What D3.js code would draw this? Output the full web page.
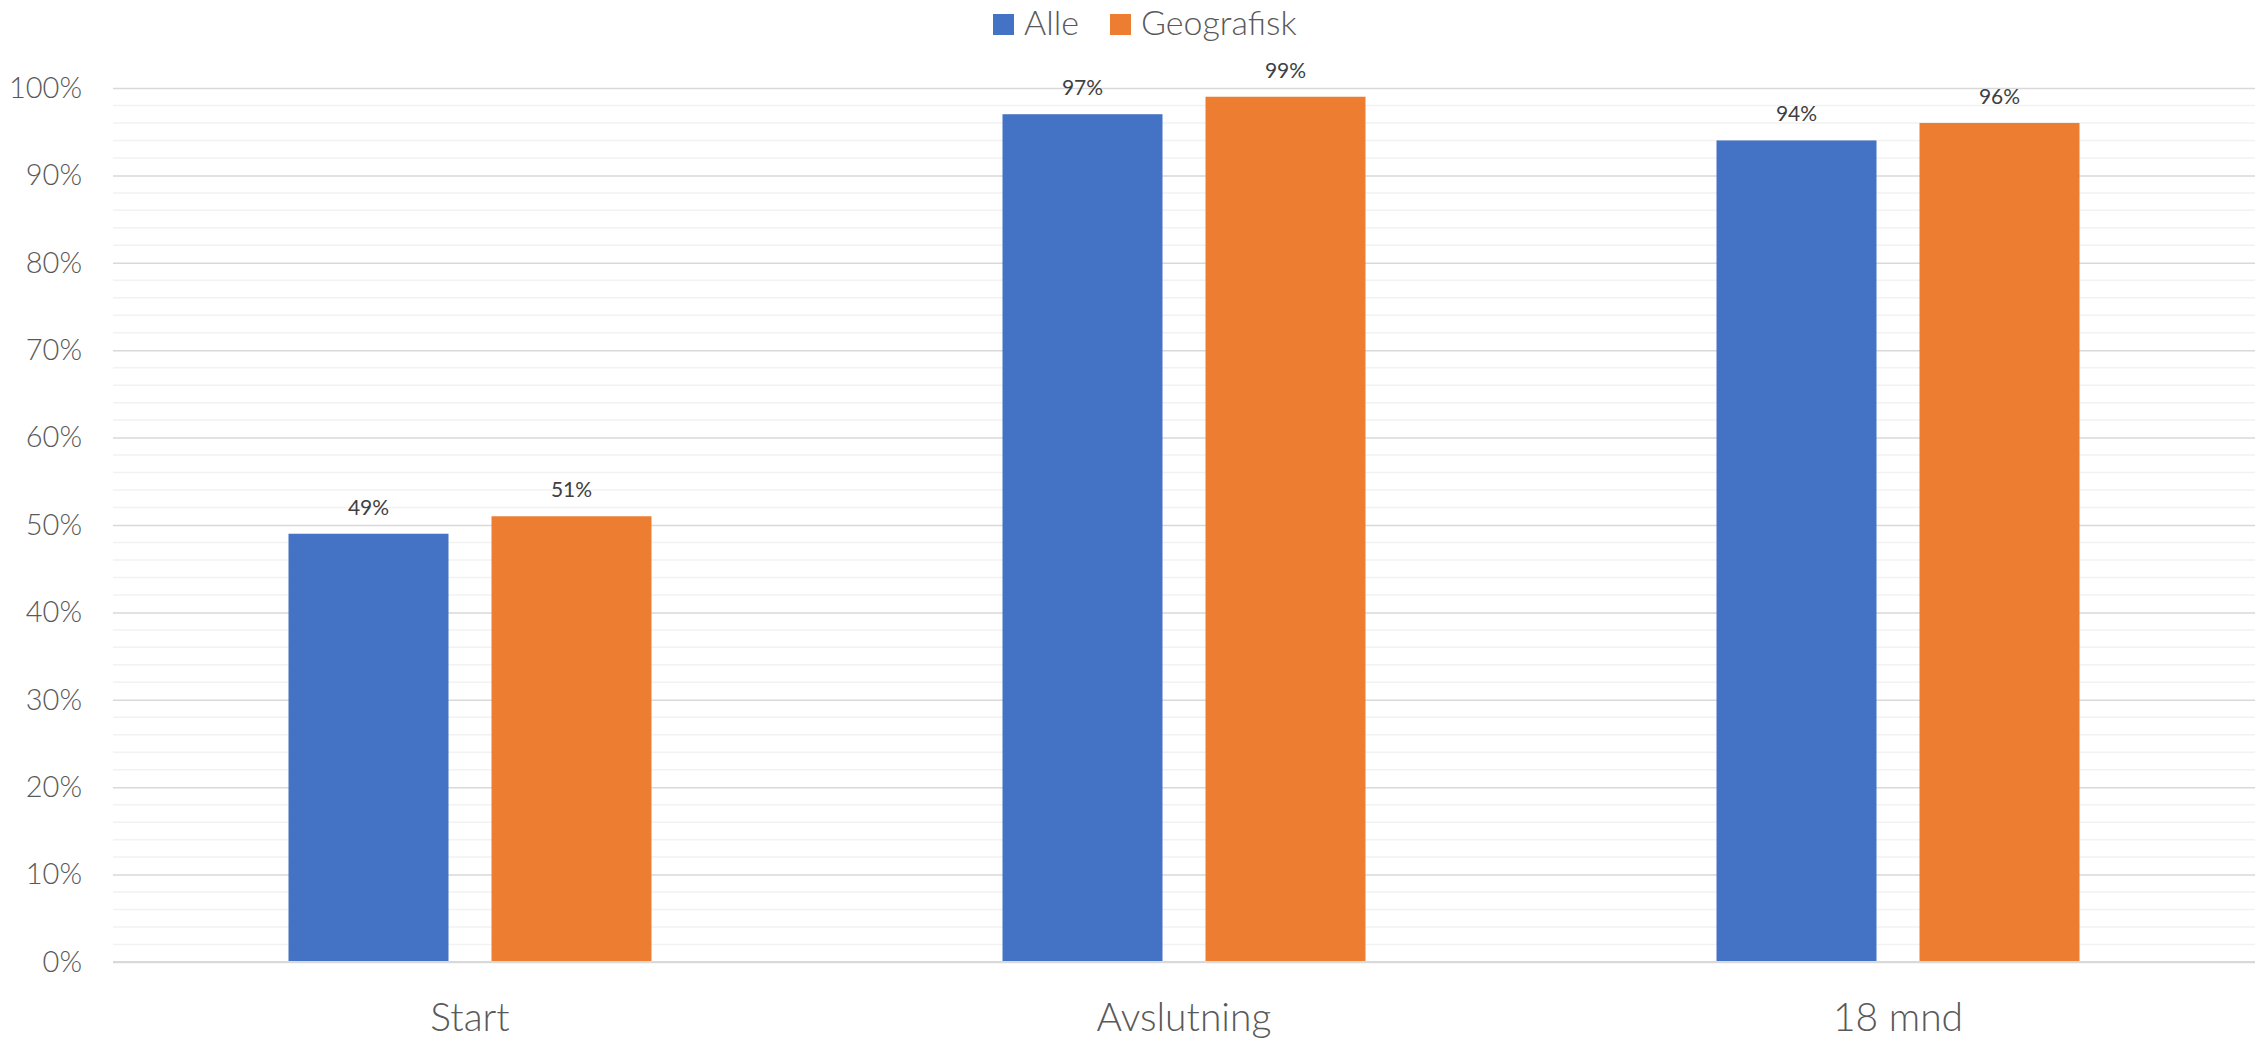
<!DOCTYPE html>
<html>
<head>
<meta charset="utf-8">
<script src="https://cdn.jsdelivr.net/npm/d3@7"></script>
<style>
html,body{margin:0;padding:0;background:#fff;}
svg{display:block;}
</style>
</head>
<body>
<svg id="chart" width="2267" height="1040"></svg>
<script>
const categories = ["Start", "Avslutning", "18 mnd"];
const seriesNames = ["Alle", "Geografisk"];
const alleValues = [49, 97, 94];
const geografiskValues = [51, 99, 96];
const yTickValues = [0, 10, 20, 30, 40, 50, 60, 70, 80, 90, 100];
const colors = ["#4472C4", "#ED7D31"];

const seriesValues = [alleValues, geografiskValues];
const W = 2267, H = 1040;
const margin = {left: 113, right: 12, top: 88, bottom: 78};
const svg = d3.select("#chart");
const FONT = "Lato, 'Open Sans', sans-serif";

const x = d3.scaleBand().domain(categories).range([margin.left, W - margin.right]).padding(0);
const y = d3.scaleLinear().domain([0, 100]).range([H - margin.bottom, margin.top]);

const groupW = 363;
const xs = d3.scaleBand().domain(seriesNames)
  .range([(x.bandwidth() - groupW) / 2, (x.bandwidth() + groupW) / 2])
  .paddingInner(1 - 160 / 203).paddingOuter(0);

// minor gridlines
const minor = d3.range(0, 101, 2).filter(v => v % 10 !== 0);
svg.append("g").selectAll("line").data(minor).join("line")
  .attr("x1", margin.left).attr("x2", W - margin.right)
  .attr("y1", d => y(d)).attr("y2", d => y(d))
  .attr("stroke", "#f2f2f2").attr("stroke-width", 1.5);

// major gridlines via axis
const yAxis = d3.axisLeft(y).tickValues(yTickValues).tickFormat(d => d + "%")
  .tickSize(-(W - margin.left - margin.right)).tickPadding(31);
const ga = svg.append("g").attr("transform", `translate(${margin.left},0)`).call(yAxis);
ga.select(".domain").remove();
ga.selectAll(".tick line").attr("stroke", "#d9d9d9").attr("stroke-width", 1.5);
ga.selectAll(".tick text").attr("fill", "#595959").attr("font-family", FONT)
  .attr("font-size", 29).attr("font-weight", 300);

// bars
const groups = svg.append("g").selectAll("g").data(categories).join("g")
  .attr("transform", d => `translate(${x(d)},0)`);
seriesNames.forEach((s, si) => {
  groups.append("rect")
    .attr("x", xs(s)).attr("width", xs.bandwidth())
    .attr("y", (d, i) => y(seriesValues[si][i]))
    .attr("height", (d, i) => y(0) - y(seriesValues[si][i]))
    .attr("fill", colors[si]);
  groups.append("text")
    .attr("x", xs(s) + xs.bandwidth() / 2)
    .attr("y", (d, i) => y(seriesValues[si][i]) - 19)
    .attr("text-anchor", "middle")
    .attr("font-family", FONT).attr("font-size", 21)
    .attr("fill", "#404040")
    .text((d, i) => seriesValues[si][i] + "%");
});

// axis baseline
svg.append("line").attr("x1", margin.left).attr("x2", W - margin.right)
  .attr("y1", y(0)).attr("y2", y(0)).attr("stroke", "#d9d9d9").attr("stroke-width", 2);

// category labels
const xAxis = d3.axisBottom(x).tickSize(0).tickPadding(0);
const gx = svg.append("g").attr("transform", `translate(0,${y(0)})`).call(xAxis);
gx.select(".domain").remove();
gx.selectAll(".tick text").attr("y", 69).attr("dy", 0)
  .attr("fill", "#595959").attr("font-family", FONT)
  .attr("font-size", 39).attr("font-weight", 300);

// legend
const legend = svg.append("g");
const legendItems = [{name: seriesNames[0], x: 993, tx: 1024}, {name: seriesNames[1], x: 1110, tx: 1141}];
legendItems.forEach((it, i) => {
  legend.append("rect").attr("x", it.x).attr("y", 14).attr("width", 21).attr("height", 21).attr("fill", colors[i]);
  legend.append("text").attr("x", it.tx).attr("y", 35)
    .attr("font-family", FONT).attr("font-size", 34).attr("font-weight", 300)
    .attr("fill", "#595959").text(it.name);
});
</script>
</body>
</html>
